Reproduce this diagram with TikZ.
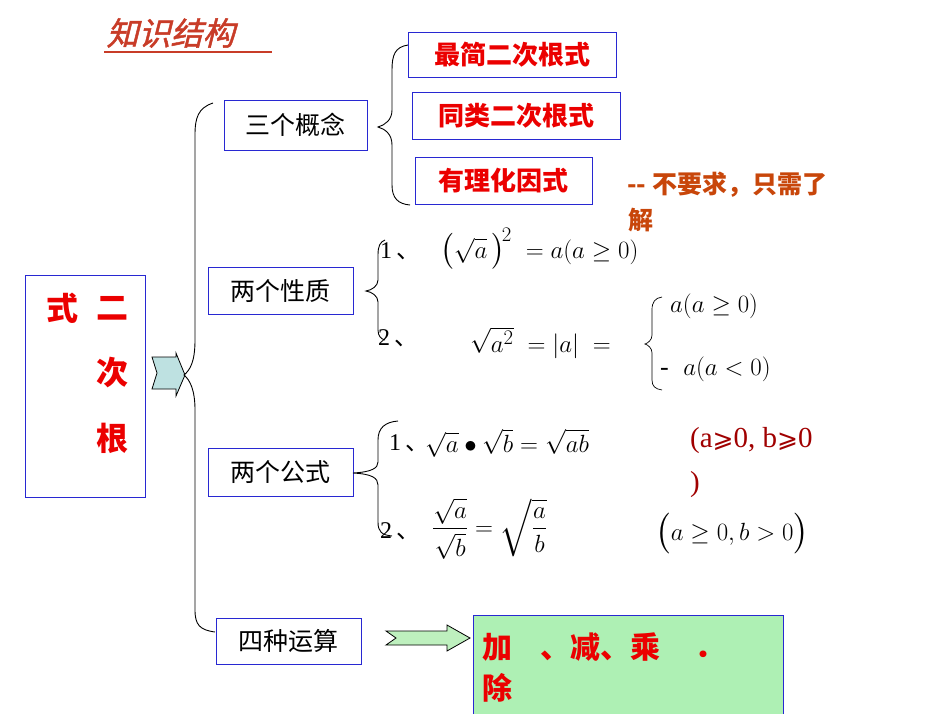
\documentclass[tikz,border=0pt]{standalone}
\usepackage{amsmath}
\usepackage{amssymb}
\usepackage{fontspec}
\setmainfont{Liberation Serif}
\newfontfamily\cjk{Noto Sans CJK SC}
\newfontfamily\cjkti{Noto Sans CJK SC}[FakeSlant=0.25,FakeBold=1.5]
\definecolor{bblue}{RGB}{40,40,210}
\definecolor{tred}{RGB}{235,0,0}
\definecolor{nred}{RGB}{200,70,10}
\definecolor{dred}{RGB}{160,0,0}
\definecolor{ttl}{RGB}{200,60,40}
\tikzset{
 bbox/.style={draw=bblue,line width=1pt,inner sep=0pt},
 lbl/.style={font=\fontsize{25}{25}\selectfont\cjk},
 rlbl/.style={font=\fontsize{26}{26}\selectfont\cjk\bfseries,text=tred},
 br/.style={draw=black,line width=0.9pt},
 fm/.style={font=\fontsize{30}{30}\selectfont,anchor=base west,inner sep=0pt},
}
\begin{document}
\begin{tikzpicture}[x=1pt,y=-1pt]
\useasboundingbox (0,0) rectangle (950,713);
% title
\node[anchor=west,text=ttl,font=\fontsize{32}{32}\selectfont\cjkti] (title) at (103,33) {知识结构};
\draw[ttl,line width=1.2pt] (104,52) -- (272,52);
% main box
\draw[bbox] (25,275) rectangle (145,497);
\node[rlbl,font=\fontsize{32}{32}\selectfont\cjk\bfseries] (m1) at (62,308) {式};
\node[rlbl,font=\fontsize{32}{32}\selectfont\cjk\bfseries] (m2) at (112,308) {二};
\node[rlbl,font=\fontsize{32}{32}\selectfont\cjk\bfseries] (m3) at (112,373) {次};
\node[rlbl,font=\fontsize{32}{32}\selectfont\cjk\bfseries] (m4) at (112,438) {根};
% cyan arrow
\draw[fill={rgb,255:red,190;green,225;blue,225},line width=0.8pt] (152,357) -- (176,357) -- (176,353) -- (185,375) -- (176,396) -- (176,389) -- (152,389) -- (157,373) -- cycle;
% big brace
\draw[br] (213,103) .. controls (198,108) and (195,118) .. (195,135) -- (195,340) .. controls (195,362) and (190,370) .. (184,375) .. controls (190,380) and (195,390) .. (195,410) -- (195,610) .. controls (195,625) and (200,630) .. (215,632);
% category boxes
\node[bbox,minimum width=143,minimum height=50,lbl] (c1) at (295.5,125) {三个概念};
\node[bbox,minimum width=145,minimum height=47,lbl] (c2) at (280.5,290.5) {两个性质};
\node[bbox,minimum width=145,minimum height=48,lbl] (c3) at (280.5,472) {两个公式};
\node[bbox,minimum width=145,minimum height=46,lbl] (c4) at (288.5,641) {四种运算};
% brace for concepts
\draw[br] (408,45) .. controls (395,47) and (392,55) .. (392,70) -- (392,110) .. controls (392,120) and (385,125) .. (378,127) .. controls (385,129) and (392,134) .. (392,145) -- (392,185) .. controls (392,198) and (398,204) .. (410,205);
\node[bbox,minimum width=208,minimum height=45,rlbl] (r1) at (512,54.5) {最简二次根式};
\node[bbox,minimum width=208,minimum height=47,rlbl] (r2) at (516,115.5) {同类二次根式};
\node[bbox,minimum width=177,minimum height=47,rlbl] (r3) at (503.5,180.5) {有理化因式};
\node[anchor=west,inner sep=0pt,text=nred,font=\fontsize{25}{25}\selectfont\cjk\bfseries] (note1) at (627,185) {-- 不要求，只需了};
\node[anchor=west,inner sep=0pt,text=nred,font=\fontsize{25}{25}\selectfont\cjk\bfseries] (note2) at (628,220) {解};
% brace for properties
\draw[br] (385,240) .. controls (380,242) and (378,246) .. (378,255) -- (378,280) .. controls (378,286) and (372,290) .. (366,291) .. controls (372,292) and (378,296) .. (378,302) -- (378,330) .. controls (378,336) and (381,339) .. (385,340);
\node[fm,font=\fontsize{24}{24}\selectfont] (p1n) at (380,258) {1\,{\cjk 、}};
\node[fm] (p1) at (440,258) {$\bigl(\sqrt{a}\,\bigr)^{\!2}\;=a(a\geq 0)$};
\node[fm,font=\fontsize{24}{24}\selectfont] (p2n) at (378,345) {2\,{\cjk 、}};
\node[fm] (p2) at (470,352) {$\sqrt{a^2}\;=|a|\;=$};
\draw[br,line width=0.7pt] (662,297) .. controls (655,298) and (652,302) .. (652,310) -- (652,335) .. controls (652,340) and (648,343) .. (645,344) .. controls (648,345) and (652,348) .. (652,353) -- (652,380) .. controls (652,386) and (655,389) .. (662,390);
\node[fm,font=\fontsize{26}{26}\selectfont] (p2a) at (670,312) {$a(a\geq 0)$};
\node[fm,font=\fontsize{26}{26}\selectfont] (p2b) at (660,375) {-\;\;$a(a<0)$};
% brace for formulas
\draw[br] (398,421) .. controls (385,422) and (378,428) .. (378,440) -- (378,462) .. controls (378,468) and (372,472) .. (353,473) .. controls (372,474) and (378,478) .. (378,485) -- (378,522) .. controls (378,532) and (382,535) .. (392,536);
\node[fm,font=\fontsize{24}{24}\selectfont] (f1n) at (389,450) {1\,{\cjk 、}};
\node[fm] (f1) at (425,452) {$\sqrt{a}\bullet\sqrt{b}=\sqrt{ab}$};
\node[anchor=west,inner sep=0pt,text=dred,font=\fontsize{29}{29}\selectfont] (c1t) at (690,441) {(a{\fontspec{DejaVu Sans}\fontsize{25}{25}\selectfont ⩾}0, b{\fontspec{DejaVu Sans}\fontsize{25}{25}\selectfont ⩾}0};
\node[anchor=west,inner sep=0pt,text=dred,font=\fontsize{29}{29}\selectfont] (c1p) at (690,485) {)};
\node[fm,font=\fontsize{24}{24}\selectfont] (f2n) at (380,538) {2\,{\cjk 、}};
\node[fm,font=\fontsize{32}{32}\selectfont] (f2) at (432,535) {$\dfrac{\sqrt{a}}{\sqrt{b}}=\sqrt{\dfrac{a}{b}}$};
\node[fm,font=\fontsize{34}{34}\selectfont] (f2c) at (655,540) {$\bigl(a\geq 0,b>0\bigr)$};
% green arrow and box
\draw[fill={rgb,255:red,190;green,240;blue,190},line width=0.8pt] (386,631) -- (447,631) -- (447,625) -- (470,638) -- (447,651) -- (447,645) -- (386,645) -- (396,638) -- cycle;
\fill[fill={rgb,255:red,174;green,240;blue,180}] (473,615) rectangle (783,715);
\draw[bbox] (473,715) -- (473,615) -- (783,615) -- (783,715);
\node[anchor=west,inner sep=0pt,rlbl,font=\fontsize{30}{30}\selectfont\cjk\bfseries] (g1) at (482,647) {加\hspace{28pt}、减、乘\hspace{34pt}．};
\node[anchor=west,inner sep=0pt,rlbl,font=\fontsize{30}{30}\selectfont\cjk\bfseries] (g2) at (482,688) {除};
\end{tikzpicture}
\end{document}
